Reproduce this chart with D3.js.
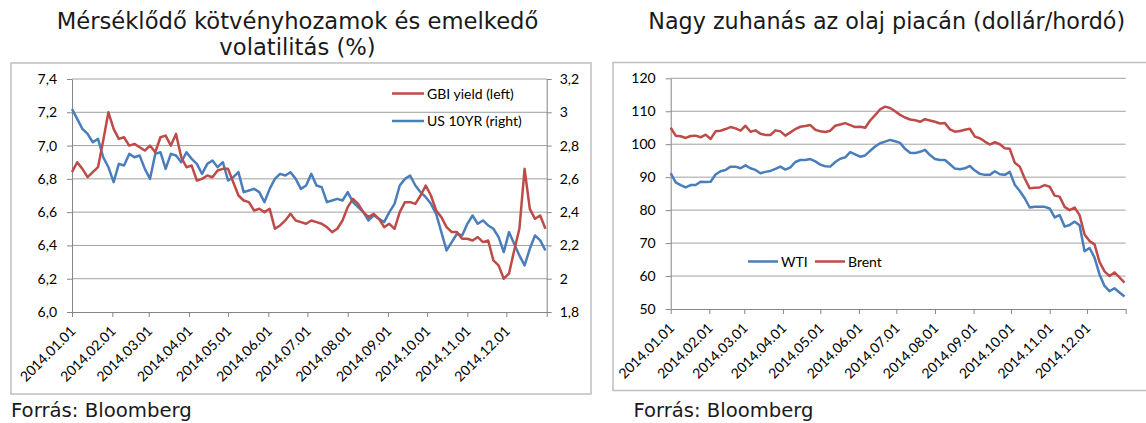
<!DOCTYPE html>
<html>
<head>
<meta charset="utf-8">
<script src="https://cdn.jsdelivr.net/npm/d3@7"></script>
<style>
  body { margin: 0; background: #fff; }
  .axis text { fill: #000; }
</style>
</head>
<body>
<svg id="chart" width="1146" height="423"></svg>
<script>
// shared date grid (every 4th day of 2014)
const dates = [
  "2014.01.01","2014.01.05","2014.01.09","2014.01.13","2014.01.17","2014.01.21","2014.01.25","2014.01.29",
  "2014.02.02","2014.02.06","2014.02.10","2014.02.14","2014.02.18","2014.02.22","2014.02.26",
  "2014.03.02","2014.03.06","2014.03.10","2014.03.14","2014.03.18","2014.03.22","2014.03.26","2014.03.30",
  "2014.04.03","2014.04.07","2014.04.11","2014.04.15","2014.04.19","2014.04.23","2014.04.27",
  "2014.05.01","2014.05.05","2014.05.09","2014.05.13","2014.05.17","2014.05.21","2014.05.25","2014.05.29",
  "2014.06.02","2014.06.06","2014.06.10","2014.06.14","2014.06.18","2014.06.22","2014.06.26","2014.06.30",
  "2014.07.04","2014.07.08","2014.07.12","2014.07.16","2014.07.20","2014.07.24","2014.07.28",
  "2014.08.01","2014.08.05","2014.08.09","2014.08.13","2014.08.17","2014.08.21","2014.08.25","2014.08.29",
  "2014.09.02","2014.09.06","2014.09.10","2014.09.14","2014.09.18","2014.09.22","2014.09.26","2014.09.30",
  "2014.10.04","2014.10.08","2014.10.12","2014.10.16","2014.10.20","2014.10.24","2014.10.28",
  "2014.11.01","2014.11.05","2014.11.09","2014.11.13","2014.11.17","2014.11.21","2014.11.25","2014.11.29",
  "2014.12.03","2014.12.07","2014.12.11","2014.12.15","2014.12.19","2014.12.23","2014.12.27","2014.12.31"
];

// left chart
const gbiYield = [
  6.84, 6.90, 6.86, 6.81, 6.84, 6.87, 7.03, 7.20,
  7.10, 7.04, 7.05, 7.00, 7.01, 6.99, 6.97,
  7.00, 6.96, 7.05, 7.06, 7.00, 7.07, 6.93, 6.87,
  6.88, 6.79, 6.80, 6.82, 6.81, 6.85, 6.86,
  6.86, 6.78, 6.70, 6.67, 6.66, 6.61, 6.62, 6.60,
  6.62, 6.50, 6.52, 6.55, 6.59, 6.55, 6.54, 6.53,
  6.55, 6.54, 6.53, 6.51, 6.48, 6.50, 6.55,
  6.63, 6.68, 6.65, 6.60, 6.57, 6.59, 6.56, 6.51,
  6.53, 6.50, 6.60, 6.66, 6.66, 6.65, 6.70, 6.76,
  6.70, 6.61, 6.57, 6.51, 6.48, 6.48, 6.44,
  6.44, 6.43, 6.45, 6.42, 6.43, 6.31, 6.28, 6.20,
  6.23, 6.37, 6.50, 6.86, 6.62, 6.56, 6.58, 6.50
];
const us10yr = [
  3.02, 2.96, 2.90, 2.87, 2.82, 2.84, 2.73, 2.67,
  2.58, 2.69, 2.68, 2.75, 2.73, 2.74, 2.66,
  2.60, 2.75, 2.76, 2.66, 2.75, 2.74, 2.70, 2.76,
  2.72, 2.69, 2.63, 2.69, 2.71, 2.67, 2.70,
  2.59, 2.61, 2.64, 2.52, 2.53, 2.54, 2.52, 2.46,
  2.54, 2.60, 2.63, 2.62, 2.64, 2.60, 2.54, 2.56,
  2.63, 2.56, 2.55, 2.46, 2.47, 2.48, 2.47,
  2.52, 2.46, 2.43, 2.40, 2.35, 2.38, 2.36, 2.34,
  2.40, 2.45, 2.56, 2.60, 2.62, 2.56, 2.52, 2.49,
  2.45, 2.39, 2.28, 2.17, 2.22, 2.27, 2.26,
  2.33, 2.38, 2.33, 2.35, 2.32, 2.30, 2.25, 2.16,
  2.28, 2.21, 2.14, 2.08, 2.18, 2.26, 2.23, 2.17
];

// right chart
const wti = [
  91.2, 88.4, 87.6, 86.9, 87.6, 87.6, 88.6, 88.5,
  88.6, 90.8, 91.8, 92.2, 93.2, 93.2, 92.7,
  93.6, 92.7, 92.2, 91.2, 91.6, 91.9, 92.5, 93.2,
  92.3, 93.0, 94.6, 95.2, 95.2, 95.5, 94.8,
  93.8, 93.3, 93.2, 94.6, 95.6, 96.0, 97.6, 96.9,
  96.2, 96.6, 98.0, 99.3, 100.3, 100.8, 101.3, 100.9,
  100.4, 98.6, 97.4, 97.3, 97.7, 98.3, 96.7,
  95.5, 95.2, 95.2, 93.9, 92.6, 92.4, 92.7, 93.4,
  92.0, 91.0, 90.7, 90.7, 91.8, 90.9, 90.7, 91.6,
  87.7, 85.8, 83.6, 80.8, 81.0, 81.0, 81.0,
  80.5, 77.8, 78.5, 75.0, 75.5, 76.5, 75.4, 67.5,
  68.5, 65.6, 60.5, 57.0, 55.4, 56.3, 55.0, 53.8
];
const brent = [
  105.0, 102.6, 102.4, 101.9, 102.5, 102.6, 102.1, 102.9,
  101.6, 103.9, 104.1, 104.6, 105.2, 104.8, 104.1,
  105.6, 103.8, 104.2, 103.2, 102.8, 102.8, 104.2, 103.9,
  102.6, 103.6, 104.6, 105.3, 105.5, 105.8, 104.4,
  103.9, 103.7, 104.1, 105.6, 106.0, 106.4, 105.8, 105.2,
  105.3, 105.0, 107.2, 108.8, 110.6, 111.4, 111.0, 110.0,
  108.9, 108.1, 107.5, 107.3, 106.8, 107.6, 107.2,
  106.8, 106.3, 106.4, 104.5, 103.8, 104.0, 104.4, 104.7,
  102.3, 101.8, 100.8, 99.9, 100.6, 100.0, 98.8, 98.6,
  94.4, 93.2, 89.6, 86.6, 86.8, 86.9, 87.6,
  87.1, 84.4, 84.1, 81.0, 80.0, 80.8, 78.5, 72.6,
  70.6, 69.6, 64.3, 61.4, 60.0, 61.1, 59.6, 58.0
];

const monthTicks = ["2014.01.01","2014.02.01","2014.03.01","2014.04.01","2014.05.01","2014.06.01",
                    "2014.07.01","2014.08.01","2014.09.01","2014.10.01","2014.11.01","2014.12.01","2015.01.01"];
const leftTicks = [6.0, 6.2, 6.4, 6.6, 6.8, 7.0, 7.2, 7.4];
const rightTicks = [1.8, 2.0, 2.2, 2.4, 2.6, 2.8, 3.0, 3.2];
const oilTicks = [50, 60, 70, 80, 90, 100, 110, 120];

const parse = d3.timeParse("%Y.%m.%d");
const fmt = d3.timeFormat("%Y.%m.%d");
const dateObjs = dates.map(parse);
const tickDates = monthTicks.map(parse);
const lastTick = tickDates[tickDates.length - 1];

const RED = "#be4b48", BLUE = "#4a7ebb";
const tickFont = "Lato, 'Liberation Sans', sans-serif";
const titleFont = "'DejaVu Sans', sans-serif";

const svg = d3.select("#chart");

function fitText(t, width) {
  const w = t.node().getComputedTextLength();
  t.attr("font-size", parseFloat(t.attr("font-size")) * width / w);
}

function styleAxis(g) {
  g.attr("class", "axis");
  g.selectAll(".domain").attr("stroke", "#868686").attr("stroke-width", 1);
  g.selectAll(".tick line").attr("stroke", "#868686");
  g.selectAll("text").attr("font-family", tickFont).attr("font-size", 14);
}

function dateAxis(x, y0) {
  const g = svg.append("g")
     .attr("transform", `translate(0,${y0})`)
     .call(d3.axisBottom(x).tickValues(tickDates).tickSize(5).tickSizeOuter(0)
           .tickFormat(d => +d === +lastTick ? "" : fmt(d)));
  styleAxis(g);
  g.selectAll(".tick text")
   .attr("text-anchor", "end")
   .attr("dy", 0)
   .attr("y", 0)
   .attr("transform", "translate(4,20) rotate(-45)");
}

function frame(x0, y0, w, h) {
  svg.append("rect").attr("x", x0).attr("y", y0).attr("width", w).attr("height", h)
     .attr("fill", "none").attr("stroke", "#bfbfbf").attr("stroke-width", 1.5);
}

// ================= left chart =================
frame(11, 63, 580, 331);
{
  const x = d3.scaleTime().domain([tickDates[0], lastTick]).range([72, 546.7]);
  const yL = d3.scaleLinear().domain([6.0, 7.4]).range([312, 79]);
  const yR = d3.scaleLinear().domain([1.8, 3.2]).range([312, 79]);

  svg.append("g").selectAll("line").data(leftTicks.slice(1)).enter().append("line")
     .attr("x1", 72).attr("x2", 546.7)
     .attr("y1", d => yL(d)).attr("y2", d => yL(d))
     .attr("stroke", "#a0a0a0");

  const gl = svg.append("g").attr("transform", "translate(72,0)")
     .call(d3.axisLeft(yL).tickValues(leftTicks).tickSize(5).tickPadding(10).tickSizeOuter(0)
           .tickFormat(d => d3.format(".1f")(d).replace(".", ",")));
  styleAxis(gl);

  const gr = svg.append("g").attr("transform", "translate(546.7,0)")
     .call(d3.axisRight(yR).tickValues(rightTicks).tickSize(5).tickPadding(8).tickSizeOuter(0)
           .tickFormat(d => String(+d.toFixed(1)).replace(".", ",")));
  styleAxis(gr);

  dateAxis(x, 312);

  const lineL = d3.line().x((d, i) => x(dateObjs[i])).y(d => yL(d));
  const lineR = d3.line().x((d, i) => x(dateObjs[i])).y(d => yR(d));
  svg.append("path").datum(us10yr).attr("d", lineR)
     .attr("fill", "none").attr("stroke", BLUE).attr("stroke-width", 2.5).attr("stroke-linejoin", "round");
  svg.append("path").datum(gbiYield).attr("d", lineL)
     .attr("fill", "none").attr("stroke", RED).attr("stroke-width", 2.5).attr("stroke-linejoin", "round");

  const legend = [["GBI yield (left)", RED, 93.5], ["US 10YR (right)", BLUE, 121]];
  legend.forEach(([name, c, ly]) => {
    svg.append("line").attr("x1", 392).attr("x2", 424).attr("y1", ly).attr("y2", ly)
       .attr("stroke", c).attr("stroke-width", 2.5);
    svg.append("text").attr("x", 427).attr("y", ly + 5).attr("font-family", tickFont)
       .attr("font-size", 14).text(name);
  });

  const t1 = svg.append("text").attr("x", 297.5).attr("y", 29).attr("text-anchor", "middle")
     .attr("font-family", titleFont).attr("font-size", 20).attr("fill", "#1a1a1a")
     .text("Mérséklődő kötvényhozamok és emelkedő");
  fitText(t1, 482);
  const t2 = svg.append("text").attr("x", 297.5).attr("y", 54.5).attr("text-anchor", "middle")
     .attr("font-family", titleFont).attr("font-size", t1.attr("font-size")).attr("fill", "#1a1a1a")
     .text("volatilitás (%)");

  const src = svg.append("text").attr("x", 11).attr("y", 417).attr("font-family", titleFont)
     .attr("font-size", 17).attr("fill", "#1a1a1a").text("Forrás: Bloomberg");
  fitText(src, 181);
}

// ================= right chart =================
frame(613, 62.5, 545, 328);
{
  const x = d3.scaleTime().domain([tickDates[0], lastTick]).range([670.7, 1125.7]);
  const y = d3.scaleLinear().domain([50, 120]).range([309, 78.3]);

  svg.append("g").selectAll("line").data(oilTicks.slice(1)).enter().append("line")
     .attr("x1", 670.7).attr("x2", 1125.7)
     .attr("y1", d => y(d)).attr("y2", d => y(d))
     .attr("stroke", "#a0a0a0");

  const gl = svg.append("g").attr("transform", "translate(670.7,0)")
     .call(d3.axisLeft(y).tickValues(oilTicks).tickSize(5).tickPadding(10).tickSizeOuter(0));
  styleAxis(gl);

  dateAxis(x, 309);

  const line = d3.line().x((d, i) => x(dateObjs[i])).y(d => y(d));
  svg.append("path").datum(wti).attr("d", line)
     .attr("fill", "none").attr("stroke", BLUE).attr("stroke-width", 2.5).attr("stroke-linejoin", "round");
  svg.append("path").datum(brent).attr("d", line)
     .attr("fill", "none").attr("stroke", RED).attr("stroke-width", 2.5).attr("stroke-linejoin", "round");

  const legend = [["WTI", BLUE, 748, 781], ["Brent", RED, 815, 848]];
  legend.forEach(([name, c, lx, tx]) => {
    svg.append("line").attr("x1", lx).attr("x2", lx + 30).attr("y1", 261.5).attr("y2", 261.5)
       .attr("stroke", c).attr("stroke-width", 2.5);
    svg.append("text").attr("x", tx).attr("y", 266.5).attr("font-family", tickFont)
       .attr("font-size", 14).text(name);
  });

  const t = svg.append("text").attr("x", 886.7).attr("y", 28.5).attr("text-anchor", "middle")
     .attr("font-family", titleFont).attr("font-size", 20).attr("fill", "#1a1a1a")
     .text("Nagy zuhanás az olaj piacán (dollár/hordó)");
  fitText(t, 477);

  const src = svg.append("text").attr("x", 633.5).attr("y", 417).attr("font-family", titleFont)
     .attr("font-size", 17).attr("fill", "#1a1a1a").text("Forrás: Bloomberg");
  fitText(src, 180);
}
</script>
</body>
</html>
